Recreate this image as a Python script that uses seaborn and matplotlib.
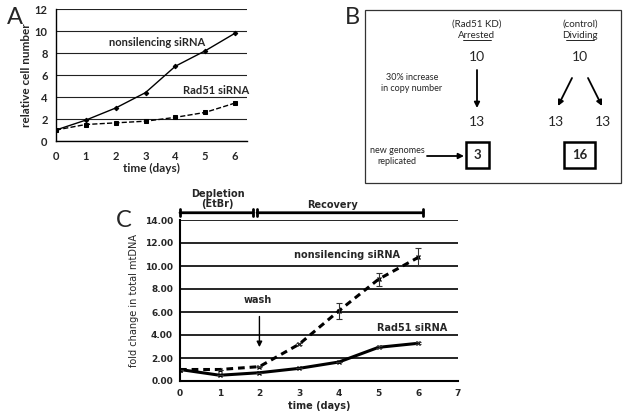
import matplotlib
matplotlib.use("Agg")
import numpy as np
import pandas as pd
import matplotlib.pyplot as plt
import seaborn as sns

# panel A data
days_a = [0, 1, 2, 3, 4, 5, 6]
a_nonsil = [1.0, 1.9, 3.0, 4.4, 6.8, 8.2, 9.8]
a_rad51 = [1.0, 1.5, 1.65, 1.8, 2.15, 2.6, 3.45]

# panel C data
days_c = [0, 1, 2, 3, 4, 5, 6]
c_nonsil = [1.0, 1.0, 1.25, 3.2, 6.1, 8.85, 10.75]
c_nonsil_err = [0.0, 0.0, 0.05, 0.1, 0.68, 0.55, 0.78]
c_rad51 = [1.0, 0.5, 0.72, 1.1, 1.65, 2.93, 3.28]
c_rad51_err = [0.0, 0.0, 0.0, 0.0, 0.0, 0.1, 0.1]

sns.set_style("white")
plt.rcParams["font.family"] = ["Lato", "DejaVu Sans"]

W, H = 626, 417
fig = plt.figure(figsize=(W / 100, H / 100), dpi=100)

def box(l, t, r, b):
    return [l / W, 1 - b / H, (r - l) / W, (b - t) / H]

# ---------- panel A ----------
axA = fig.add_axes(box(56, 9, 247, 141))
df_a = pd.DataFrame({"day": days_a, "nonsil": a_nonsil, "rad51": a_rad51})
sns.lineplot(data=df_a, x="day", y="nonsil", ax=axA, color="black", lw=1,
             marker="D", markersize=2.3, markeredgecolor="black")
sns.lineplot(data=df_a, x="day", y="rad51", ax=axA, color="black", lw=1,
             linestyle="--", marker="s", markersize=3.3, markeredgecolor="black")
axA.set_xlim(0, 6.4)
axA.set_ylim(0, 12)
axA.set_xticks(days_a)
axA.set_yticks(range(0, 13, 2))
axA.set_axisbelow(True)
axA.yaxis.grid(True, color="#222222", lw=0.8)
for s in ["top", "right"]:
    axA.spines[s].set_visible(False)
for s in ["left", "bottom"]:
    axA.spines[s].set_color("black")
    axA.spines[s].set_linewidth(1)
axA.tick_params(axis="x", direction="inout", length=4, width=0.8, labelsize=8, pad=5)
axA.tick_params(axis="y", direction="out", length=3, width=0.8, labelsize=8, pad=3)
for lab in axA.get_xticklabels() + axA.get_yticklabels():
    lab.set_fontweight("bold")
axA.set_xlabel("time (days)", fontsize=8.5, fontweight="bold", labelpad=1)
axA.set_ylabel("relative cell number", fontsize=8.5, fontweight="bold", labelpad=2)
axA.text(3.4, 9.0, "nonsilencing siRNA", fontsize=8, fontweight="bold", ha="center", va="center")
axA.text(5.35, 4.55, "Rad51 siRNA", fontsize=8, fontweight="bold", ha="center", va="center")

# ---------- panel C ----------
axC = fig.add_axes(box(180, 220, 458, 381))
df_c = pd.DataFrame({"day": days_c, "nonsil": c_nonsil, "rad51": c_rad51})
sns.lineplot(data=df_c, x="day", y="nonsil", ax=axC, color="black", lw=2.2,
             linestyle=(0, (2.2, 1.6)), marker="x", markersize=3,
             markeredgewidth=1, markeredgecolor="black")
sns.lineplot(data=df_c, x="day", y="rad51", ax=axC, color="black", lw=2.2,
             marker="x", markersize=3, markeredgewidth=1, markeredgecolor="black")
axC.errorbar(days_c, c_nonsil, yerr=c_nonsil_err, fmt="none", ecolor="#333333",
             elinewidth=0.8, capsize=2.5, capthick=0.8)
axC.errorbar(days_c, c_rad51, yerr=c_rad51_err, fmt="none", ecolor="#333333",
             elinewidth=0.8, capsize=2.5, capthick=0.8)
axC.set_xlim(0, 7)
axC.set_ylim(0, 14)
axC.set_xticks(range(0, 8))
axC.set_yticks(range(0, 15, 2))
axC.set_yticklabels(["%.2f" % v for v in range(0, 15, 2)])
axC.set_axisbelow(True)
axC.yaxis.grid(True, color="black", lw=1.2)
for s in ["top", "right"]:
    axC.spines[s].set_visible(False)
for s in ["left", "bottom"]:
    axC.spines[s].set_color("black")
    axC.spines[s].set_linewidth(1.5)
axC.tick_params(axis="x", direction="inout", length=4, width=1.2, pad=4)
axC.tick_params(axis="y", direction="out", length=3, width=1.2, pad=2)
for lab in axC.get_xticklabels() + axC.get_yticklabels():
    lab.set_fontweight("bold")
    lab.set_fontsize(6.5)
    lab.set_family("DejaVu Sans")
axC.set_xlabel("time (days)", fontsize=7, fontweight="bold", family="DejaVu Sans", labelpad=2)
axC.set_ylabel("fold change in total mtDNA", fontsize=7, family="DejaVu Sans", labelpad=4)
axC.text(4.2, 10.95, "nonsilencing siRNA", fontsize=7, fontweight="bold",
         family="DejaVu Sans", ha="center", va="center")
axC.text(5.85, 4.6, "Rad51 siRNA", fontsize=7, fontweight="bold",
         family="DejaVu Sans", ha="center", va="center")
axC.text(1.95, 7.05, "wash", fontsize=7, fontweight="bold",
         family="DejaVu Sans", ha="center", va="center")
axC.annotate("", xy=(2.0, 2.7), xytext=(2.0, 5.85),
             arrowprops=dict(arrowstyle="-|>", color="black", lw=1, mutation_scale=8))
# treatment brackets above the plot
axC.annotate("", xy=(0, 14.63), xytext=(1.84, 14.63), annotation_clip=False,
             arrowprops=dict(arrowstyle="|-|", color="black", lw=2, mutation_scale=2.5,
                             shrinkA=0, shrinkB=0))
axC.annotate("", xy=(1.94, 14.63), xytext=(6.12, 14.63), annotation_clip=False,
             arrowprops=dict(arrowstyle="|-|", color="black", lw=2, mutation_scale=2.5,
                             shrinkA=0, shrinkB=0))
axC.text(0.95, 15.85, "Depletion\n(EtBr)", fontsize=7, fontweight="bold",
         family="DejaVu Sans", ha="center", va="center", linespacing=1.0)
axC.text(3.85, 15.3, "Recovery", fontsize=7, fontweight="bold",
         family="DejaVu Sans", ha="center", va="center")

# ---------- overlay for panel letters and diagram B ----------
ov = fig.add_axes([0, 0, 1, 1])
ov.set_xlim(0, W)
ov.set_ylim(H, 0)
ov.axis("off")
ov.patch.set_alpha(0)

ov.text(15, 17, "A", fontsize=17, ha="center", va="center")
ov.text(352, 17, "B", fontsize=17, ha="center", va="center")
ov.text(124, 220, "C", fontsize=17, ha="center", va="center")

ov.add_patch(plt.Rectangle((365, 10), 256, 173, fill=False, ec="#333333", lw=0.9))

ov.text(477, 24, "(Rad51 KD)", fontsize=7, ha="center", va="center")
ov.text(477, 35, "Arrested", fontsize=7, ha="center", va="center")
ov.plot([463, 491], [40, 40], color="black", lw=0.6)
ov.text(580, 24, "(control)", fontsize=7, ha="center", va="center")
ov.text(580, 35, "Dividing", fontsize=7, ha="center", va="center")
ov.plot([566, 594], [40, 40], color="black", lw=0.6)

ov.text(477, 57, "10", fontsize=10, ha="center", va="center")
ov.text(580, 57, "10", fontsize=10, ha="center", va="center")
ov.text(412, 83, "30% increase\nin copy number", fontsize=6.5, ha="center",
        va="center", linespacing=1.3)

arr = dict(arrowstyle="-|>", color="black", lw=1.3, mutation_scale=8, shrinkA=0, shrinkB=0)
ov.annotate("", xy=(477, 108), xytext=(477, 70), arrowprops=arr)
ov.annotate("", xy=(558, 106), xytext=(572, 78), arrowprops=arr)
ov.annotate("", xy=(602, 106), xytext=(588, 78), arrowprops=arr)

ov.text(477, 122, "13", fontsize=10, ha="center", va="center")
ov.text(556, 122, "13", fontsize=10, ha="center", va="center")
ov.text(603, 122, "13", fontsize=10, ha="center", va="center")

ov.text(397, 156, "new genomes\nreplicated", fontsize=6.5, ha="center",
        va="center", linespacing=1.3)
ov.annotate("", xy=(464, 156), xytext=(427, 156), arrowprops=arr)

ov.add_patch(plt.Rectangle((466, 142), 23, 26, fill=False, ec="black", lw=1.8))
ov.text(477.5, 155, "3", fontsize=9.5, fontweight="bold", ha="center", va="center")
ov.add_patch(plt.Rectangle((564, 142), 31, 26, fill=False, ec="black", lw=1.8))
ov.text(579.5, 155, "16", fontsize=9.5, fontweight="bold", ha="center", va="center")

fig.savefig("out.png", dpi=100)
